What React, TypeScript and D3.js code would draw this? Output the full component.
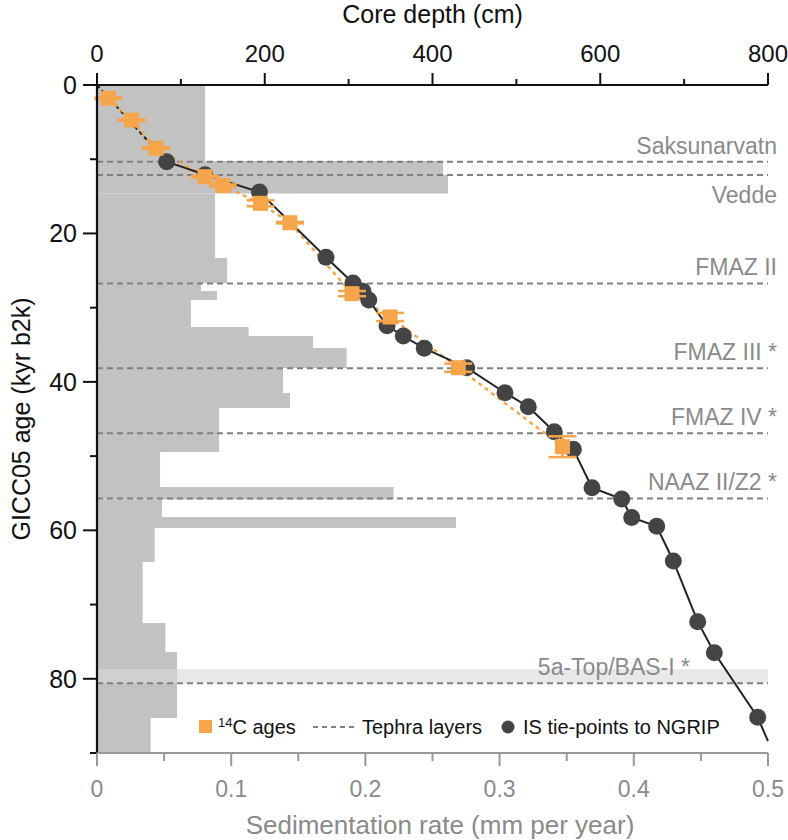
import React from 'react';
import * as d3 from 'd3';

// ---------- data ----------
const rateBreaks = [0, 10.24, 12.13, 14.62, 23.31, 26.68, 27.76, 28.97, 32.61, 33.82, 35.44, 38.13, 41.5, 43.52, 49.45, 54.16, 55.85, 58.21, 59.69, 64.27, 72.49, 76.39, 85.29, 90];
const sedRates = [0.0805, 0.258, 0.2615, 0.088, 0.097, 0.0775, 0.0894, 0.07, 0.113, 0.161, 0.186, 0.1386, 0.1438, 0.091, 0.047, 0.221, 0.0484, 0.2675, 0.043, 0.034, 0.051, 0.0596, 0.04];

const tieDepths = [83.1, 128.8, 193.7, 273, 305.2, 317.1, 324, 345.8, 365.2, 390.2, 440.8, 486.4, 514.2, 545.2, 567.9, 590.2, 625.6, 637.5, 667.3, 687.1, 716.2, 736, 787.7];
const tieAges = [10.33, 12.1, 14.42, 23.21, 26.68, 27.78, 28.97, 32.44, 33.82, 35.48, 38.09, 41.46, 43.34, 46.71, 49.08, 54.27, 55.78, 58.27, 59.46, 64.13, 72.31, 76.49, 85.19];
const modelEndDepth = 800;
const modelEndAge = 88.4;

const c14Depths = [13.5, 41.3, 70.3, 128.7, 150, 195, 230, 304, 349.5, 430.7, 555];
const c14Ages = [1.79, 4.72, 8.53, 12.36, 13.54, 15.94, 18.55, 28.11, 31.26, 38.09, 48.73];
const c14Errors = [0.1, 0.1, 0.1, 0.1, 0.15, 0.4, 0.1, 0.35, 0.55, 0.55, 1.4];

const tephraNames = ['Saksunarvatn', 'Vedde', 'FMAZ II', 'FMAZ III *', 'FMAZ IV *', 'NAAZ II/Z2 *', '5a-Top/BAS-I *'];
const tephraAges = [10.33, 12.12, 26.74, 38.15, 46.93, 55.7, 80.6];
const bandAges = [78.7, 80.6];

const depthTicks = [0, 200, 400, 600, 800];
const depthMinor = [100, 300, 500, 700];
const ageTicks = [0, 20, 40, 60, 80];
const ageMinor = [10, 30, 50, 70, 90];
const rateTicks = [0, 0.1, 0.2, 0.3, 0.4, 0.5];
const rateMinor = [0.05, 0.15, 0.25, 0.35, 0.45];

// ---------- layout ----------
const W = 788, H = 840;
const L = 97, R = 768, T = 85, B = 753;
const FONT = "'Liberation Sans', Arial, Helvetica, sans-serif";
const ORANGE = '#F6A54B';
const DOT = '#444444';
const GRAY_TEXT = '#8a8a8a';

export default function App() {
  const y = d3.scaleLinear().domain([0, 90]).range([T, B]);
  const xd = d3.scaleLinear().domain([0, 800]).range([L, R]);
  const xr = d3.scaleLinear().domain([0, 0.5]).range([L, R]);

  const lineGen = d3.line<[number, number]>().x(d => xd(d[0])).y(d => y(d[1]));

  const tiePts: [number, number][] = tieDepths.map((d, i) => [d, tieAges[i]]);
  const modelPts: [number, number][] = [...tiePts, [modelEndDepth, modelEndAge]];
  const topPts: [number, number][] = [[0, 0], tiePts[0]];
  const c14Pts: [number, number][] = c14Depths.map((d, i) => [d, c14Ages[i]]);

  const sq = 15;
  const capW = 28;

  return (
    <svg width={W} height={H} style={{ display: 'block', position: 'absolute', left: 0, top: 0 }} fontFamily={FONT}>
      <rect x={0} y={0} width={W} height={H} fill="#fff" />
      {/* sedimentation rate bars */}
      {sedRates.map((r, i) => (
        <rect key={'b' + i} x={xr(0)} y={y(rateBreaks[i])} width={xr(r) - xr(0)}
          height={y(rateBreaks[i + 1]) - y(rateBreaks[i])} fill="#c2c2c2" />
      ))}
      {/* band */}
      <rect x={L} y={y(bandAges[0])} width={R - L} height={y(bandAges[1]) - y(bandAges[0])} fill="#d9d9d9" opacity={0.6} />
      {/* tephra lines */}
      {tephraAges.map((a, i) => (
        <line key={'t' + i} x1={L} x2={R} y1={y(a)} y2={y(a)} stroke="#808080" strokeWidth={2} strokeDasharray="6,4" />
      ))}
      {tephraNames.map((n, i) => {
        const below = n === 'Vedde';
        const last = i === tephraNames.length - 1;
        return (
          <text key={'tl' + i} x={last ? 690 : 777} y={y(tephraAges[i]) + (below ? 28 : -8)} textAnchor="end"
            fontSize={23} fill={GRAY_TEXT}>{n}</text>
        );
      })}
      {/* age model lines */}
      <path d={lineGen(topPts) || ''} fill="none" stroke="#222" strokeWidth={2} strokeDasharray="4,3" />
      <path d={lineGen(c14Pts) || ''} fill="none" stroke={ORANGE} strokeWidth={2.5} strokeDasharray="4,4" />
      <path d={lineGen(modelPts) || ''} fill="none" stroke="#222" strokeWidth={2} />
      {/* tie points */}
      {tiePts.map((p, i) => (
        <circle key={'d' + i} cx={xd(p[0])} cy={y(p[1])} r={8.5} fill={DOT} />
      ))}
      {/* 14C ages */}
      {c14Pts.map((p, i) => {
        const cx = xd(p[0]);
        const cy = y(p[1]);
        const e = c14Errors[i];
        return (
          <g key={'s' + i}>
            <line x1={cx} x2={cx} y1={y(p[1] - e)} y2={y(p[1] + e)} stroke={ORANGE} strokeWidth={2.5} />
            <line x1={cx - capW / 2} x2={cx + capW / 2} y1={y(p[1] - e)} y2={y(p[1] - e)} stroke={ORANGE} strokeWidth={2.5} />
            <line x1={cx - capW / 2} x2={cx + capW / 2} y1={y(p[1] + e)} y2={y(p[1] + e)} stroke={ORANGE} strokeWidth={2.5} />
            <rect x={cx - sq / 2} y={cy - sq / 2} width={sq} height={sq} fill={ORANGE} />
          </g>
        );
      })}
      {/* top axis */}
      <line x1={L} x2={R} y1={T} y2={T} stroke="#111" strokeWidth={2.2} />
      {depthTicks.map(t => (
        <g key={'dt' + t}>
          <line x1={xd(t)} x2={xd(t)} y1={T} y2={T - 12} stroke="#111" strokeWidth={2} />
          <text x={xd(t)} y={62} textAnchor="middle" fontSize={24} fill="#111">{t}</text>
        </g>
      ))}
      {depthMinor.map(t => (
        <line key={'dm' + t} x1={xd(t)} x2={xd(t)} y1={T} y2={T - 6} stroke="#111" strokeWidth={2} />
      ))}
      <text x={(L + R) / 2} y={23} textAnchor="middle" fontSize={25} fill="#111">Core depth (cm)</text>
      {/* left axis */}
      <line x1={L} x2={L} y1={T} y2={B} stroke="#111" strokeWidth={2.2} />
      {ageTicks.map(t => (
        <g key={'at' + t}>
          <line x1={L} x2={L - 14} y1={y(t)} y2={y(t)} stroke="#111" strokeWidth={2} />
          <text x={L - 20} y={y(t) + 9} textAnchor="end" fontSize={25} fill="#111">{t}</text>
        </g>
      ))}
      {ageMinor.map(t => (
        <line key={'am' + t} x1={L} x2={L - 7} y1={y(t)} y2={y(t)} stroke="#111" strokeWidth={2} />
      ))}
      <text transform={`translate(30,${(T + B) / 2}) rotate(-90)`} textAnchor="middle" fontSize={25} fill="#111">GICC05 age (kyr b2k)</text>
      {/* bottom axis */}
      <line x1={L} x2={R} y1={B} y2={B} stroke="#999" strokeWidth={2.2} />
      {rateTicks.map(t => (
        <g key={'rt' + t}>
          <line x1={xr(t)} x2={xr(t)} y1={B} y2={B + 13} stroke="#999" strokeWidth={2} />
          <text x={xr(t)} y={797} textAnchor="middle" fontSize={23} fill={GRAY_TEXT}>{t === 0 ? '0' : String(t)}</text>
        </g>
      ))}
      {rateMinor.map(t => (
        <line key={'rm' + t} x1={xr(t)} x2={xr(t)} y1={B} y2={B + 8} stroke="#999" strokeWidth={2} />
      ))}
      <text x={440} y={834} textAnchor="middle" fontSize={26} fill={GRAY_TEXT}>Sedimentation rate (mm per year)</text>
      {/* legend */}
      <rect x={199} y={720} width={13} height={13} fill={ORANGE} />
      <text x={218} y={734} fontSize={20} fill="#111">
        <tspan fontSize={13} dy={-7}>14</tspan>
        <tspan dy={7}>C ages</tspan>
      </text>
      <line x1={313} x2={355} y1={727} y2={727} stroke="#808080" strokeWidth={2} strokeDasharray="5,4" />
      <text x={362} y={734} fontSize={20} fill="#111">Tephra layers</text>
      <circle cx={508} cy={727} r={6.5} fill={DOT} />
      <text x={523} y={734} fontSize={20} fill="#111">IS tie-points to NGRIP</text>
    </svg>
  );
}
